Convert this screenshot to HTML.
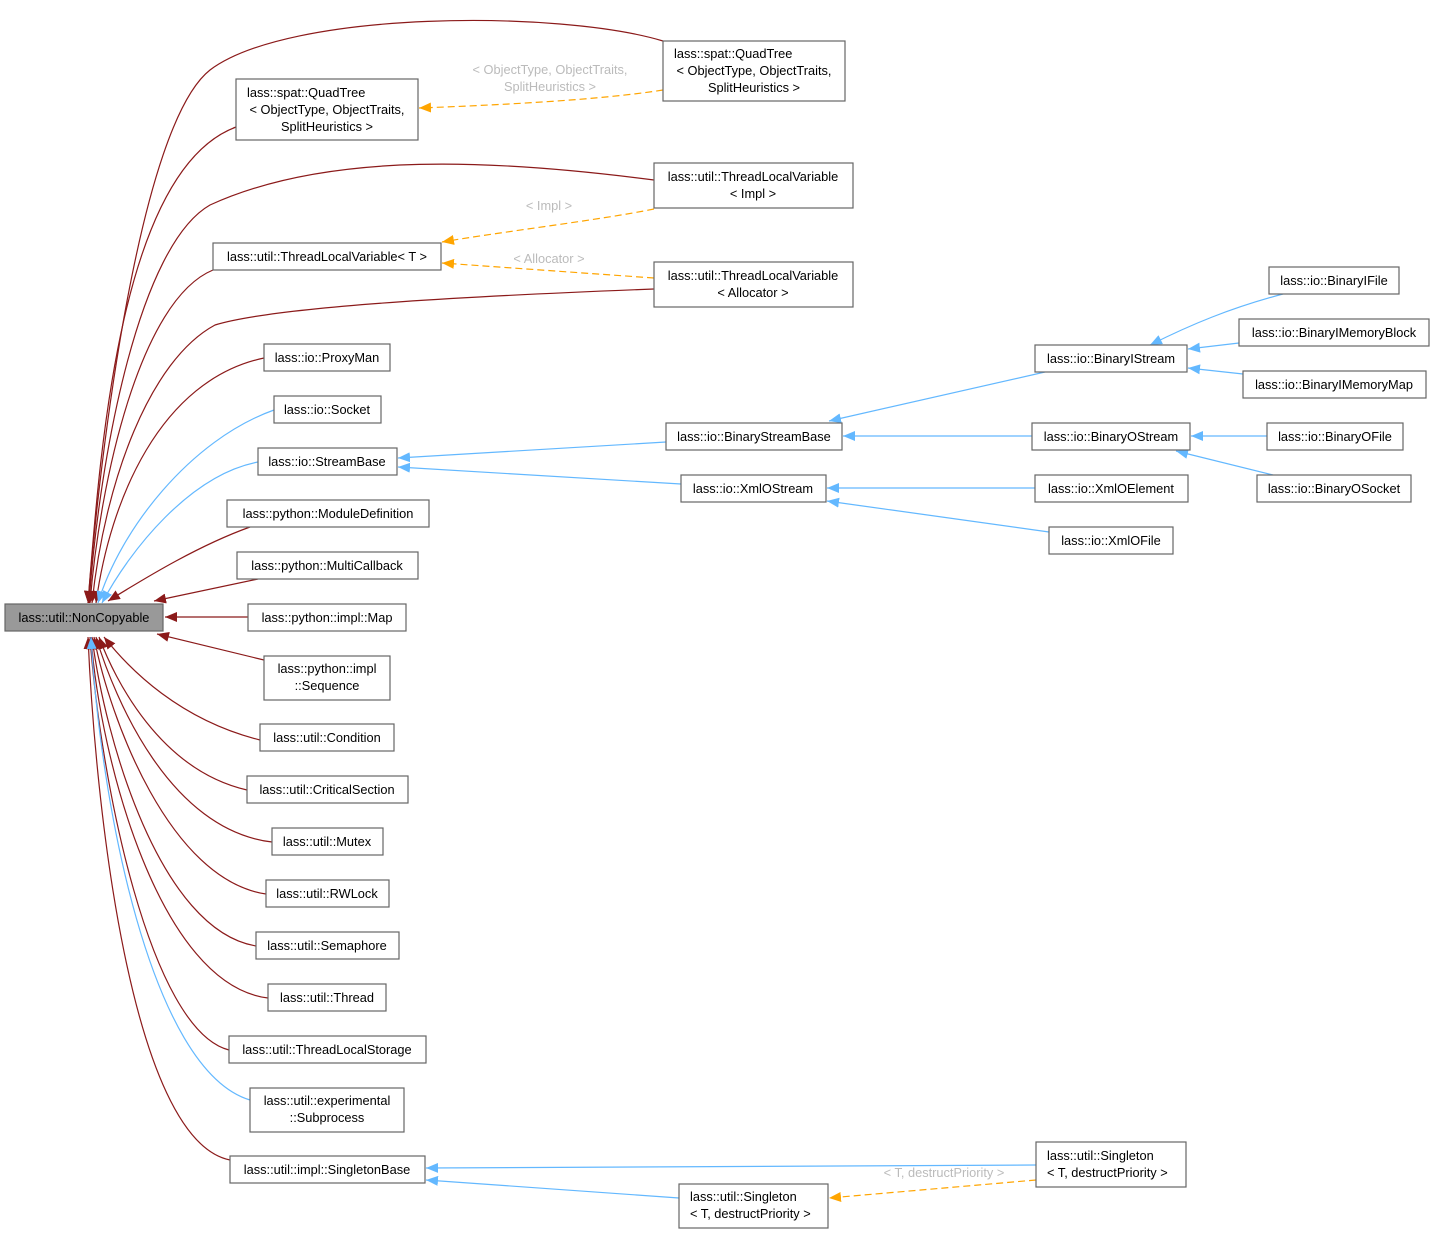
<!DOCTYPE html>
<html><head><meta charset="utf-8"><style>
html,body{margin:0;padding:0;background:#fff;}
svg{display:block;}
text{font-family:"Liberation Sans","DejaVu Sans",sans-serif;font-size:12.8px;fill:#000;}
.lbl{fill:#bbb;}
.b{fill:#fff;stroke:#666;stroke-width:1.2;}
.r{fill:none;stroke:#8b1a1a;stroke-width:1.2;}
.u{fill:none;stroke:#63b8ff;stroke-width:1.2;}
.o{fill:none;stroke:#ffa500;stroke-width:1.2;stroke-dasharray:7,4;}
</style></head><body>
<svg width="1435" height="1234" viewBox="0 0 1435 1234" xmlns="http://www.w3.org/2000/svg">
<defs>
<marker id="mr" markerUnits="userSpaceOnUse" markerWidth="13" markerHeight="10" refX="12" refY="5" orient="auto"><path d="M0,0 L12,5 L0,10 z" fill="#8b1a1a"/></marker>
<marker id="mu" markerUnits="userSpaceOnUse" markerWidth="13" markerHeight="10" refX="12" refY="5" orient="auto"><path d="M0,0 L12,5 L0,10 z" fill="#63b8ff"/></marker>
<marker id="mo" markerUnits="userSpaceOnUse" markerWidth="13" markerHeight="10" refX="12" refY="5" orient="auto"><path d="M0,0 L12,5 L0,10 z" fill="#ffa500"/></marker>
</defs>

<g marker-end="url(#mr)">
<path class="r" d="M663,41 C560,10 290,10 210,70 C140,125 100,450 88,603"/>
<path class="r" d="M236,127 C120,170 100,450 88,603"/>
<path class="r" d="M654,180 C500,160 330,150 210,205 C140,245 100,450 89,603"/>
<path class="r" d="M213,270 C140,300 100,480 90,603"/>
<path class="r" d="M654,289 C500,295 280,305 215,325 C150,360 105,480 92,603"/>
<path class="r" d="M264,358 C160,380 110,500 96,603"/>
<path class="r" d="M250,527 C200,545 150,575 108,601"/>
<path class="r" d="M258,579 L154,601"/>
<path class="r" d="M248,617 L165,617"/>
<path class="r" d="M264,660 L157,634"/>
<path class="r" d="M260,740 C180,720 130,670 104,637"/>
<path class="r" d="M247,790 C160,770 115,680 99,637"/>
<path class="r" d="M272,842 C170,830 115,700 96,637"/>
<path class="r" d="M266,894 C170,880 110,720 94,637"/>
<path class="r" d="M256,946 C160,930 105,740 92,637"/>
<path class="r" d="M268,998 C160,985 100,760 91,637"/>
<path class="r" d="M229,1050 C150,1030 100,780 90,637"/>
<path class="r" d="M230,1160 C130,1140 95,800 88,637"/>
</g>
<g marker-end="url(#mu)">
<path class="u" d="M274,410 C190,440 120,530 98,603"/>
<path class="u" d="M258,462 C190,475 130,550 102,603"/>
<path class="u" d="M250,1100 C150,1070 100,800 91,637"/>
<path class="u" d="M666,442 L398,458"/>
<path class="u" d="M681,484 L398,467"/>
<path class="u" d="M1045,372 L829,421"/>
<path class="u" d="M1032,436 L843,436"/>
<path class="u" d="M1035,488 L827,488"/>
<path class="u" d="M1049,532 L827,501"/>
<path class="u" d="M1283,294 C1230,308 1190,325 1150,345"/>
<path class="u" d="M1239,343 L1188,349"/>
<path class="u" d="M1243,374 L1188,368"/>
<path class="u" d="M1267,436 L1191,436"/>
<path class="u" d="M1273,475 L1176,451"/>
<path class="u" d="M1036,1165 L426,1168"/>
<path class="u" d="M679,1198 L426,1180"/>
</g>
<g marker-end="url(#mo)">
<path class="o" d="M663,90 C600,100 500,105 419,108"/>
<path class="o" d="M654,209 C600,220 500,232 442,242"/>
<path class="o" d="M654,278 L442,263"/>
<path class="o" d="M1036,1180 L829,1198"/>
</g>
<g class="lbl" text-anchor="middle">
<text class="lbl" x="550" y="74">&lt; ObjectType, ObjectTraits,</text>
<text class="lbl" x="550" y="91">SplitHeuristics &gt;</text>
<text class="lbl" x="549" y="210">&lt; Impl &gt;</text>
<text class="lbl" x="549" y="263">&lt; Allocator &gt;</text>
<text class="lbl" x="944" y="1177">&lt; T, destructPriority &gt;</text>
</g>

<rect x="5" y="604" width="158" height="27" fill="#999" stroke="#666" stroke-width="1.2"/>
<text x="84" y="622" text-anchor="middle">lass::util::NonCopyable</text>

<g>
<rect class="b" x="236" y="79" width="182" height="61"/>
<text x="247" y="97">lass::spat::QuadTree</text>
<text x="327" y="114" text-anchor="middle">&lt; ObjectType, ObjectTraits,</text>
<text x="327" y="131" text-anchor="middle">SplitHeuristics &gt;</text>

<rect class="b" x="663" y="41" width="182" height="60"/>
<text x="674" y="58">lass::spat::QuadTree</text>
<text x="754" y="75" text-anchor="middle">&lt; ObjectType, ObjectTraits,</text>
<text x="754" y="92" text-anchor="middle">SplitHeuristics &gt;</text>

<rect class="b" x="654" y="163" width="199" height="45"/>
<text x="753" y="181" text-anchor="middle">lass::util::ThreadLocalVariable</text>
<text x="753" y="198" text-anchor="middle">&lt; Impl &gt;</text>

<rect class="b" x="213" y="243" width="228" height="27"/>
<text x="327" y="261" text-anchor="middle">lass::util::ThreadLocalVariable&lt; T &gt;</text>

<rect class="b" x="654" y="262" width="199" height="45"/>
<text x="753" y="280" text-anchor="middle">lass::util::ThreadLocalVariable</text>
<text x="753" y="297" text-anchor="middle">&lt; Allocator &gt;</text>
</g>

<g text-anchor="middle">
<rect class="b" x="264" y="344" width="126" height="27"/><text x="327" y="362">lass::io::ProxyMan</text>
<rect class="b" x="274" y="396" width="107" height="27"/><text x="327" y="414">lass::io::Socket</text>
<rect class="b" x="258" y="448" width="139" height="27"/><text x="327" y="466">lass::io::StreamBase</text>
<rect class="b" x="227" y="500" width="202" height="27"/><text x="328" y="518">lass::python::ModuleDefinition</text>
<rect class="b" x="237" y="552" width="181" height="27"/><text x="327" y="570">lass::python::MultiCallback</text>
<rect class="b" x="248" y="604" width="158" height="27"/><text x="327" y="622">lass::python::impl::Map</text>
<rect class="b" x="264" y="656" width="126" height="44"/><text x="327" y="673">lass::python::impl</text><text x="327" y="690">::Sequence</text>
<rect class="b" x="260" y="724" width="134" height="27"/><text x="327" y="742">lass::util::Condition</text>
<rect class="b" x="247" y="776" width="161" height="27"/><text x="327" y="794">lass::util::CriticalSection</text>
<rect class="b" x="272" y="828" width="111" height="27"/><text x="327" y="846">lass::util::Mutex</text>
<rect class="b" x="266" y="880" width="123" height="27"/><text x="327" y="898">lass::util::RWLock</text>
<rect class="b" x="256" y="932" width="143" height="27"/><text x="327" y="950">lass::util::Semaphore</text>
<rect class="b" x="268" y="984" width="118" height="27"/><text x="327" y="1002">lass::util::Thread</text>
<rect class="b" x="229" y="1036" width="197" height="27"/><text x="327" y="1054">lass::util::ThreadLocalStorage</text>
<rect class="b" x="250" y="1088" width="154" height="44"/><text x="327" y="1105">lass::util::experimental</text><text x="327" y="1122">::Subprocess</text>
<rect class="b" x="230" y="1156" width="195" height="27"/><text x="327" y="1174">lass::util::impl::SingletonBase</text>

<rect class="b" x="666" y="423" width="176" height="27"/><text x="754" y="441">lass::io::BinaryStreamBase</text>
<rect class="b" x="681" y="475" width="145" height="27"/><text x="753" y="493">lass::io::XmlOStream</text>
<rect class="b" x="1035" y="345" width="152" height="27"/><text x="1111" y="363">lass::io::BinaryIStream</text>
<rect class="b" x="1032" y="423" width="158" height="27"/><text x="1111" y="441">lass::io::BinaryOStream</text>
<rect class="b" x="1035" y="475" width="153" height="27"/><text x="1111" y="493">lass::io::XmlOElement</text>
<rect class="b" x="1049" y="527" width="124" height="27"/><text x="1111" y="545">lass::io::XmlOFile</text>
<rect class="b" x="1269" y="267" width="130" height="27"/><text x="1334" y="285">lass::io::BinaryIFile</text>
<rect class="b" x="1239" y="319" width="190" height="27"/><text x="1334" y="337">lass::io::BinaryIMemoryBlock</text>
<rect class="b" x="1243" y="371" width="183" height="27"/><text x="1334" y="389">lass::io::BinaryIMemoryMap</text>
<rect class="b" x="1267" y="423" width="136" height="27"/><text x="1335" y="441">lass::io::BinaryOFile</text>
<rect class="b" x="1257" y="475" width="154" height="27"/><text x="1334" y="493">lass::io::BinaryOSocket</text>
</g>

<rect class="b" x="679" y="1184" width="149" height="44"/>
<text x="690" y="1201">lass::util::Singleton</text>
<text x="690" y="1218">&lt; T, destructPriority &gt;</text>
<rect class="b" x="1036" y="1142" width="150" height="45"/>
<text x="1047" y="1160">lass::util::Singleton</text>
<text x="1047" y="1177">&lt; T, destructPriority &gt;</text>
</svg>
</body></html>
